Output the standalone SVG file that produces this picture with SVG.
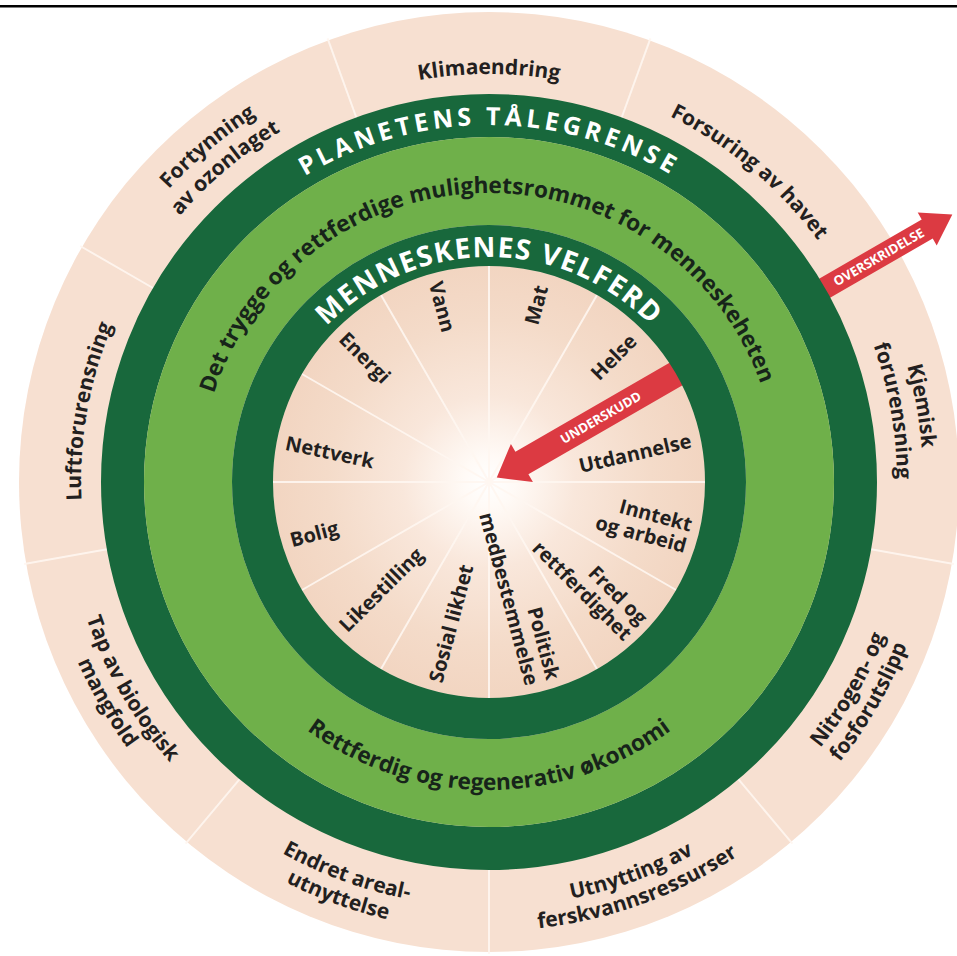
<svg xmlns="http://www.w3.org/2000/svg" width="957" height="956" viewBox="0 0 957 956">
<defs>
<style>
.lbl{font-family:"Open Sans","Liberation Sans",sans-serif;font-weight:700;fill:#231f20}
.outer{font-size:21px}
.inner{font-size:20px}
.title{font-family:"Open Sans","Liberation Sans",sans-serif;font-weight:700;fill:#ffffff}
.band{font-family:"Open Sans","Liberation Sans",sans-serif;font-weight:700;font-size:22.6px;fill:#17241a}
.atxt{font-family:"Open Sans","Liberation Sans",sans-serif;font-weight:700;font-size:13px;fill:#ffffff}
.sep{stroke:#fff7f1;stroke-width:2;opacity:0.9}
.arrow{fill:#dc3a42}
.dark{fill:none;stroke:#18683c}
.light{fill:none;stroke:#6fb04a}
</style>
<radialGradient id="core" gradientUnits="userSpaceOnUse" cx="0" cy="0" r="216">
<stop offset="0" stop-color="#ffffff"/>
<stop offset="0.12" stop-color="#fffaf6"/>
<stop offset="0.4" stop-color="#f9e7db"/>
<stop offset="0.75" stop-color="#f4dbc9"/>
<stop offset="1" stop-color="#f2d5c1"/>
</radialGradient>
<path id="t408" d="M-408,0 A408,408 0 0 1 408,0"/>
<path id="t434" d="M-434,0 A434,434 0 0 1 434,0"/>
<path id="t357" d="M-357,0 A357,357 0 0 1 357,0"/>
<path id="t289" d="M-289,0 A289,289 0 0 1 289,0"/>
<path id="t225" d="M-225,0 A225,225 0 0 1 225,0"/>
<path id="b425" d="M-425,0 A425,425 0 0 0 425,0"/>
<path id="b449" d="M-449,0 A449,449 0 0 0 449,0"/>
<path id="b308" d="M-308,0 A308,308 0 0 0 308,0"/>
</defs>
<rect x="0" y="0" width="957" height="956" fill="#ffffff"/>
<rect x="0" y="5" width="957" height="2.5" fill="#000000"/>
<g transform="translate(489,482)">
<g id="base">
<circle r="470" fill="#f7e0d1"/>
<circle r="216" fill="url(#core)"/>
</g>
<g id="separators">
<line class="sep" x1="0" y1="-385" x2="0" y2="-472" transform="rotate(20)"/>
<line class="sep" x1="0" y1="-385" x2="0" y2="-472" transform="rotate(60)"/>
<line class="sep" x1="0" y1="-385" x2="0" y2="-472" transform="rotate(100)"/>
<line class="sep" x1="0" y1="-385" x2="0" y2="-472" transform="rotate(140)"/>
<line class="sep" x1="0" y1="-385" x2="0" y2="-472" transform="rotate(180)"/>
<line class="sep" x1="0" y1="-385" x2="0" y2="-472" transform="rotate(220)"/>
<line class="sep" x1="0" y1="-385" x2="0" y2="-472" transform="rotate(260)"/>
<line class="sep" x1="0" y1="-385" x2="0" y2="-472" transform="rotate(300)"/>
<line class="sep" x1="0" y1="-385" x2="0" y2="-472" transform="rotate(340)"/>
<line class="sep" x1="0" y1="0" x2="0" y2="-218" transform="rotate(0)"/>
<line class="sep" x1="0" y1="0" x2="0" y2="-218" transform="rotate(30)"/>
<line class="sep" x1="0" y1="0" x2="0" y2="-218" transform="rotate(60)"/>
<line class="sep" x1="0" y1="0" x2="0" y2="-218" transform="rotate(90)"/>
<line class="sep" x1="0" y1="0" x2="0" y2="-218" transform="rotate(120)"/>
<line class="sep" x1="0" y1="0" x2="0" y2="-218" transform="rotate(150)"/>
<line class="sep" x1="0" y1="0" x2="0" y2="-218" transform="rotate(180)"/>
<line class="sep" x1="0" y1="0" x2="0" y2="-218" transform="rotate(210)"/>
<line class="sep" x1="0" y1="0" x2="0" y2="-218" transform="rotate(240)"/>
<line class="sep" x1="0" y1="0" x2="0" y2="-218" transform="rotate(270)"/>
<line class="sep" x1="0" y1="0" x2="0" y2="-218" transform="rotate(300)"/>
<line class="sep" x1="0" y1="0" x2="0" y2="-218" transform="rotate(330)"/>
</g>
<g id="connectors">
<g id="underskudd" transform="rotate(-30)">
<polygon class="arrow" points="222,-13 38,-13 38,-22 9,0 38,22 38,13 222,13"/>
<text class="atxt" x="129" y="0" dy="0.36em" text-anchor="middle">UNDERSKUDD</text>
</g>
<g id="overskridelse" transform="rotate(-30)">
<polygon class="arrow" points="380,-11 506,-11 506,-19 535,0 506,19 506,11 380,11"/>
<text class="atxt" x="450" y="0" dy="0.36em" text-anchor="middle">OVERSKRIDELSE</text>
</g>
</g>
<g id="rings">
<circle class="dark" r="366.5" stroke-width="43"/>
<circle class="light" r="301" stroke-width="88"/>
<circle class="dark" r="236.5" stroke-width="41"/>
</g>
<g id="ring-titles">
<g id="planetens-talegrense"><text class="title" font-size="25" letter-spacing="4" text-anchor="middle"><textPath href="#t357" startOffset="50%">PLANETENS TÅLEGRENSE</textPath></text></g>
<g id="det-trygge" transform="rotate(-1)"><text class="band" text-anchor="middle"><textPath href="#t289" startOffset="50%">Det trygge og rettferdige mulighetsrommet for menneskeheten</textPath></text></g>
<g id="menneskenes-velferd"><text class="title" font-size="28" letter-spacing="1.5" text-anchor="middle"><textPath href="#t225" startOffset="50%">MENNESKENES VELFERD</textPath></text></g>
<g id="rettferdig-okonomi"><text class="band" text-anchor="middle"><textPath href="#b308" startOffset="50%">Rettferdig og regenerativ økonomi</textPath></text></g>
</g>
<g id="planetary-boundaries">
<g id="klimaendring"><text class="lbl outer" text-anchor="middle"><textPath href="#t408" startOffset="50%">Klimaendring</textPath></text></g>
<g id="forsuring" transform="rotate(40)"><text class="lbl outer" text-anchor="middle"><textPath href="#t408" startOffset="50%">Forsuring av havet</textPath></text></g>
<g id="kjemisk" transform="rotate(80)"><text class="lbl outer" text-anchor="middle"><textPath href="#t434" startOffset="50%">Kjemisk</textPath></text><text class="lbl outer" text-anchor="middle"><textPath href="#t408" startOffset="50%">forurensning</textPath></text></g>
<g id="nitrogen" transform="rotate(-60)"><text class="lbl outer" text-anchor="middle"><textPath href="#b425" startOffset="50%">Nitrogen- og</textPath></text><text class="lbl outer" text-anchor="middle"><textPath href="#b449" startOffset="50%">fosforutslipp</textPath></text></g>
<g id="ferskvann" transform="rotate(-20)"><text class="lbl outer" text-anchor="middle"><textPath href="#b425" startOffset="50%">Utnytting av</textPath></text><text class="lbl outer" text-anchor="middle"><textPath href="#b449" startOffset="50%">ferskvannsressurser</textPath></text></g>
<g id="arealutnyttelse" transform="rotate(20)"><text class="lbl outer" text-anchor="middle"><textPath href="#b425" startOffset="50%">Endret areal-</textPath></text><text class="lbl outer" text-anchor="middle"><textPath href="#b449" startOffset="50%">utnyttelse</textPath></text></g>
<g id="biologisk-mangfold" transform="rotate(60)"><text class="lbl outer" text-anchor="middle"><textPath href="#b425" startOffset="50%">Tap av biologisk</textPath></text><text class="lbl outer" text-anchor="middle"><textPath href="#b449" startOffset="50%">mangfold</textPath></text></g>
<g id="luftforurensning" transform="rotate(-80)"><text class="lbl outer" text-anchor="middle"><textPath href="#t408" startOffset="50%">Luftforurensning</textPath></text></g>
<g id="ozonlaget" transform="rotate(-40)"><text class="lbl outer" text-anchor="middle"><textPath href="#t434" startOffset="50%">Fortynning</textPath></text><text class="lbl outer" text-anchor="middle"><textPath href="#t408" startOffset="50%">av ozonlaget</textPath></text></g>
</g>
<g id="social-foundation">
<g id="mat" transform="rotate(-75)"><text class="lbl inner" x="203" y="0" dy="0.35em" text-anchor="end">Mat</text></g>
<g id="helse" transform="rotate(-45)"><text class="lbl inner" x="204" y="0" dy="0.35em" text-anchor="end">Helse</text></g>
<g id="utdannelse" transform="rotate(-13)"><text class="lbl inner" x="206" y="5" dy="0.35em" text-anchor="end">Utdannelse</text></g>
<g id="inntekt" transform="rotate(15)"><text class="lbl inner" x="207" y="-4" text-anchor="end">Inntekt</text><text class="lbl inner" x="207" y="18" text-anchor="end">og arbeid</text></g>
<g id="fred" transform="rotate(45)"><text class="lbl inner" x="208" y="-4" text-anchor="end">Fred og</text><text class="lbl inner" x="208" y="18" text-anchor="end">rettferdighet</text></g>
<g id="politisk" transform="rotate(75)"><text class="lbl inner" x="207" y="-4" text-anchor="end">Politisk</text><text class="lbl inner" x="207" y="18" text-anchor="end">medbestemmelse</text></g>
<g id="sosial-likhet" transform="rotate(-75)"><text class="lbl inner" x="-207" y="0" dy="0.35em" text-anchor="start">Sosial likhet</text></g>
<g id="likestilling" transform="rotate(-45)"><text class="lbl inner" x="-207" y="0" dy="0.35em" text-anchor="start">Likestilling</text></g>
<g id="bolig" transform="rotate(-15)"><text class="lbl inner" x="-207" y="5" dy="0.35em" text-anchor="start">Bolig</text></g>
<g id="nettverk" transform="rotate(12)"><text class="lbl inner" x="-207" y="4" dy="0.35em" text-anchor="start">Nettverk</text></g>
<g id="energi" transform="rotate(45)"><text class="lbl inner" x="-207" y="0" dy="0.35em" text-anchor="start">Energi</text></g>
<g id="vann" transform="rotate(75)"><text class="lbl inner" x="-207" y="0" dy="0.35em" text-anchor="start">Vann</text></g>
</g>
</g>
</svg>
